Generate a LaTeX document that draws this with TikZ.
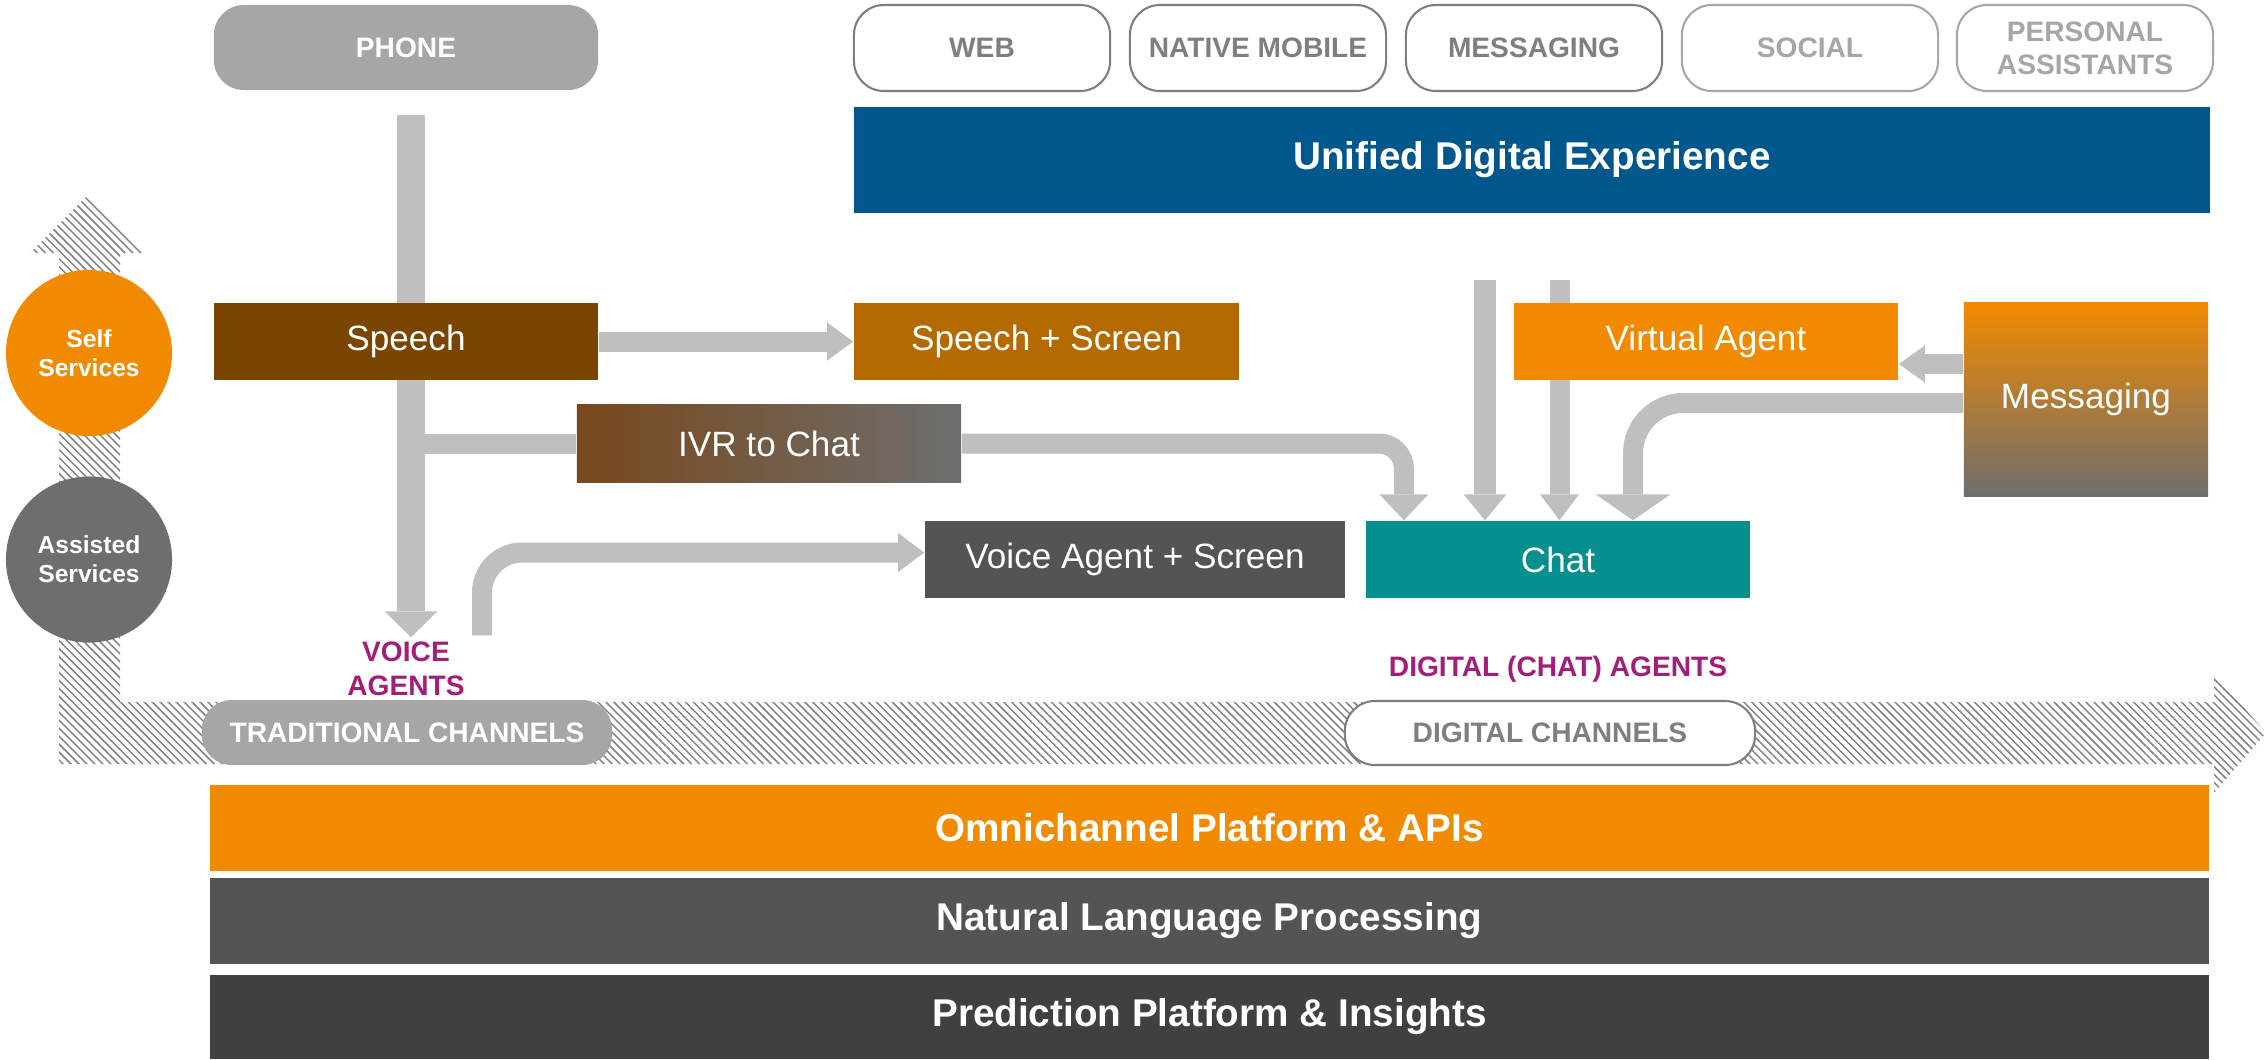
\documentclass[tikz,border=0pt]{standalone}
\usepackage{fontspec}
\setmainfont{Liberation Sans}
\usetikzlibrary{arrows.meta,patterns.meta}
\definecolor{boxgray}{RGB}{166,166,166}
\definecolor{flowgray}{RGB}{191,191,191}
\definecolor{textgray}{RGB}{127,127,127}
\definecolor{hatchgray}{RGB}{128,128,128}
\definecolor{speechbrown}{RGB}{122,69,0}
\definecolor{ivrbrown}{RGB}{120,72,28}
\definecolor{screenbrown}{RGB}{180,106,0}
\definecolor{brandorange}{RGB}{242,138,0}
\definecolor{chatteal}{RGB}{6,143,143}
\definecolor{darkgrey}{RGB}{84,84,84}
\definecolor{deepgrey}{RGB}{64,64,64}
\definecolor{midgrey}{RGB}{110,110,110}
\definecolor{unifiedblue}{RGB}{0,87,140}
\definecolor{agentmagenta}{RGB}{163,30,121}
\pgfdeclarelayer{hatch}
\pgfdeclarelayer{flows}
\pgfsetlayers{hatch,flows,main}

\begin{document}
\begin{tikzpicture}[x=0.01cm,y=-0.01cm]
    % Stili per blocchi, canali e frecce
    \tikzset{
        pill/.style={
            rounded corners=0.3cm, % Angoli arrotondati
            minimum width=2.56cm,
            minimum height=0.86cm,
            align=center,
            font=\fontsize{8pt}{9.4pt}\selectfont\bfseries,
            inner sep=0pt
        },
        channel_pill/.style={pill, draw=textgray, line width=0.6pt, fill=white, text=textgray},
        future_pill/.style={pill, draw=boxgray, line width=0.6pt, fill=white, text=boxgray},
        step_box/.style={
            minimum width=3.84cm, % Larghezza del blocco
            minimum height=0.77cm, % Altezza del blocco
            text=white,
            font=\fontsize{10pt}{12pt}\selectfont,
            inner sep=0pt
        },
        layer_bar/.style={
            minimum width=19.97cm, % Barra su tutta la larghezza
            minimum height=0.86cm,
            text=white,
            font=\fontsize{11pt}{13pt}\selectfont\bfseries,
            inner sep=0pt
        },
        service/.style={circle, minimum size=1.66cm, text=white, align=center,
            font=\fontsize{7pt}{8.3pt}\selectfont\bfseries, inner sep=0pt},
        agent_label/.style={text=agentmagenta, align=center,
            font=\fontsize{8pt}{9.7pt}\selectfont\bfseries, inner sep=0pt},
        flow/.style={draw=flowgray, line width=0.2cm,
            -{Triangle[width=#1, length=0.26cm, line width=0pt]}},
        flow/.default=0.42cm,
        bar/.style={draw=flowgray, line width=0.2cm}
    }
    \useasboundingbox (0,0) rectangle (2266,1059);

    % Canali in alto
    \node[pill, fill=boxgray, text=white, minimum width=3.84cm, minimum height=0.85cm] (phone) at (406,47.5) {PHONE};
    \node[channel_pill] (web) at (982,48) {WEB};
    \node[channel_pill] (native_mobile) at (1258,48) {NATIVE MOBILE};
    \node[channel_pill] (messaging_ch) at (1534,48) {MESSAGING};
    \node[future_pill] (social) at (1810,48) {SOCIAL};
    \node[future_pill] (personal) at (2085,48) {PERSONAL\\ASSISTANTS};

    \node[fill=unifiedblue, minimum width=13.56cm, minimum height=1.06cm, text=white,
        font=\fontsize{11pt}{13pt}\selectfont\bfseries] (unified) at (1532,160) {Unified Digital Experience};

    % Blocchi dei servizi
    \node[step_box, fill=speechbrown] (speech) at (406,341.5) {Speech};
    \node[step_box, fill=screenbrown, minimum width=3.85cm] (speech_screen) at (1046.5,341.5) {Speech + Screen};
    \node[step_box, left color=ivrbrown, right color=midgrey] (ivr) at (769,443.5) {IVR to Chat};
    \node[step_box, fill=darkgrey, minimum width=4.2cm] (va_screen) at (1135,559.5) {Voice Agent + Screen};
    \node[step_box, fill=chatteal] (chat) at (1558,559.5) {Chat};
    \node[step_box, fill=brandorange] (virtual_agent) at (1706,341.5) {Virtual Agent};
    \node[step_box, minimum width=2.44cm, minimum height=1.93cm, top color=brandorange,
        bottom color=midgrey] (messaging) at (2086,399.5) {Messaging};

    % Cerchi a sinistra
    \node[service, fill=brandorange] (self) at (89,353) {Self\\Services};
    \node[service, fill=midgrey] (assisted) at (89,559.5) {Assisted\\Services};

    % Etichette degli agenti
    \node[agent_label] (voice_agents) at (406,669) {VOICE\\AGENTS};
    \node[agent_label] (digital_agents) at (1558,669) {DIGITAL (CHAT) AGENTS};

    % Canali tradizionali e digitali
    \node[pill, fill=boxgray, text=white, minimum width=4.1cm, minimum height=0.65cm] (traditional) at (407,732.5) {TRADITIONAL CHANNELS};
    \node[pill, draw=textgray, line width=0.6pt, fill=white, text=textgray, minimum width=4.1cm,
        minimum height=0.64cm] (digital) at (1550,733) {DIGITAL CHANNELS};

    % Piattaforme in basso
    \node[layer_bar, fill=brandorange] (omni) at (1209.5,828) {Omnichannel Platform \& APIs};
    \node[layer_bar, fill=darkgrey] (nlp) at (1209.5,921) {Natural Language Processing};
    \node[layer_bar, fill=deepgrey, minimum height=0.84cm] (prediction) at (1209.5,1017) {Prediction Platform \& Insights};

    % Frecce grigie
    \begin{pgfonlayer}{flows}
        \draw[flow=0.53cm, line width=0.27cm, shorten <=0.24cm, shorten >=0.04cm]
            ([xshift=0.05cm]phone.south) -- ([xshift=0.05cm]voice_agents.north);
        \draw[bar] ([xshift=0.05cm]speech.south) |- (ivr.west);
        \draw[flow=0.38cm] (speech.east) -- (speech_screen.west);
        \draw[flow=0.49cm, rounded corners=0.25cm] (ivr.east) -| ([xshift=-1.54cm]chat.north);

        \coordinate (chat_in_a) at ([xshift=-0.73cm]chat.north);
        \coordinate (chat_in_b) at ([xshift=0.015cm]chat.north);
        \draw[flow=0.43cm, line width=0.22cm, shorten <=0.66cm] (chat_in_a |- unified.south) -- (chat_in_a);
        \draw[flow=0.39cm, shorten <=0.66cm] (chat_in_b |- unified.south) -- (chat_in_b);

        \draw[flow=0.75cm, rounded corners=0.5cm] ([yshift=-0.035cm]messaging.west) -| ([xshift=0.75cm]chat.north);
        \coordinate (msg_va) at ([yshift=0.355cm]messaging.west);
        \draw[flow=0.37cm] (msg_va) -- (msg_va -| virtual_agent.east);

        \coordinate (voice_up) at ([xshift=0.75cm,yshift=0.64cm]traditional.north);
        \draw[flow=0.39cm, rounded corners=0.4cm] (voice_up) |- ([yshift=0.07cm]va_screen.west);
    \end{pgfonlayer}

    % Freccia tratteggiata a L
    \begin{pgfonlayer}{hatch}
        \fill[pattern={Lines[angle=-45, distance=1.6pt, line width=0.42pt]}, pattern color=hatchgray]
            (59,764) -- (59,253) -- (30,253) -- (88,195) -- (146,253) -- (120,253) -- (120,702)
            -- (2214,702) -- (2214,673) -- (2266,733) -- (2214,793) -- (2214,764) -- cycle;
    \end{pgfonlayer}
\end{tikzpicture}
\end{document}
